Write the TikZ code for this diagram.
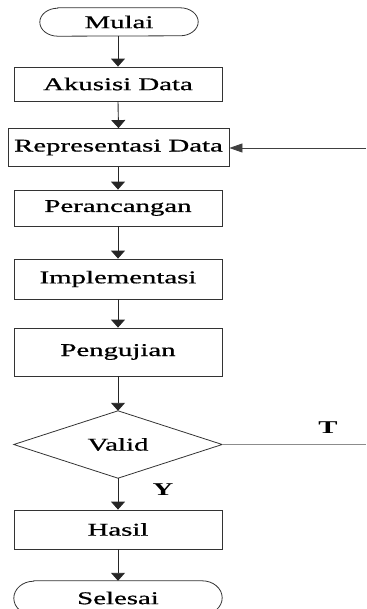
\documentclass[tikz,border=0pt]{standalone}
\usepackage{fontspec}
\setmainfont{Liberation Serif}
\newfontfamily\heavy{Liberation Serif}[FakeBold=0.7]
\usetikzlibrary{arrows.meta}
\tikzset{
  x=1pt,y=1pt,
  lbl/.style={font=\fontsize{18}{20}\selectfont\heavy, inner sep=0pt},
  box/.style={lbl, draw=black!80, line width=0.8pt, minimum width=208pt},
  ghost/.style={lbl, draw=none, minimum width=208pt},
  conn/.style={draw=black!85, line width=0.9pt, -{Triangle[width=14pt,length=8pt]}},
  hconn/.style={draw=black!75, line width=0.8pt, -{Triangle[width=9pt,length=13pt]}},
  outline/.style={draw=black!80, line width=0.8pt},
  tline/.style={draw=black!45, line width=1pt},
  yt/.style={font=\fontsize{18}{20}\selectfont\bfseries, inner sep=0pt}
}
\newcommand{\wx}[1]{\scalebox{1.6}[1]{#1}}
\begin{document}
\begin{tikzpicture}
\useasboundingbox (0,0) rectangle (366,-609);
\clip (0,0) rectangle (366,-609);
% terminals (text holders)
\node[lbl, minimum width=158pt, minimum height=28pt] (m) at (119,-22) {\wx{Mulai}};
\draw[outline] ([xshift=18pt]m.north west) -- ([xshift=-18pt]m.north east)
  arc[start angle=90, end angle=-90, x radius=18, y radius=14]
  -- ([xshift=18pt]m.south west)
  arc[start angle=270, end angle=90, x radius=18, y radius=14] -- cycle;
\node[box, minimum height=34pt] (a) at (118,-84) {\wx{Akusisi Data}};
\node[box, minimum width=221pt, minimum height=38pt] (r) at (118.5,-147.5) {\wx{Representasi Data}};
\node[box, minimum height=36pt] (p) at (118,-208) {\wx{Perancangan}};
\node[box, minimum height=40pt] (i) at (118,-279) {\wx{Implementasi}};
\node[box, minimum height=48pt] (u) at (118,-352) {\wx{Pengujian}};
\node[ghost, minimum height=67pt] (v) at (118,-444.5) {\wx{Valid}};
\draw[outline] (v.north) -- (v.east) -- (v.south) -- (v.west) -- cycle;
\node[box, minimum height=39pt] (h) at (118,-529.5) {\wx{Hasil}};
\node[ghost, minimum height=34pt] (s) at (118,-598) {\wx{Selesai}};
\draw[outline] ([xshift=20pt]s.north west) -- ([xshift=-20pt]s.north east)
  arc[start angle=90, end angle=-90, x radius=20, y radius=17]
  -- ([xshift=20pt]s.south west)
  arc[start angle=270, end angle=90, x radius=20, y radius=17] -- cycle;
% connectors
\draw[conn] (m.south -| a.north) -- (a.north);
\draw[conn] (a.south) -- (r.south |- r.north);
\draw[conn] (r.south -| p.north) -- (p.north);
\draw[conn] (p.south) -- (i.north);
\draw[conn] (i.south) -- (u.north);
\draw[conn] (u.south) -- (v.north);
\draw[conn] (v.south) -- (h.north);
\draw[conn] (h.south) -- (s.north);
\coordinate (rin) at (366,-148);
\draw[hconn] (rin) -- (rin -| r.east);
\coordinate (tout) at (366,-444.5);
\draw[tline] (v.east) -- (tout);
\node[yt] (tl) at (328,-428) {\wx{T}};
\node[yt] (yl) at (163,-490) {\wx{Y}};
\end{tikzpicture}
\end{document}
